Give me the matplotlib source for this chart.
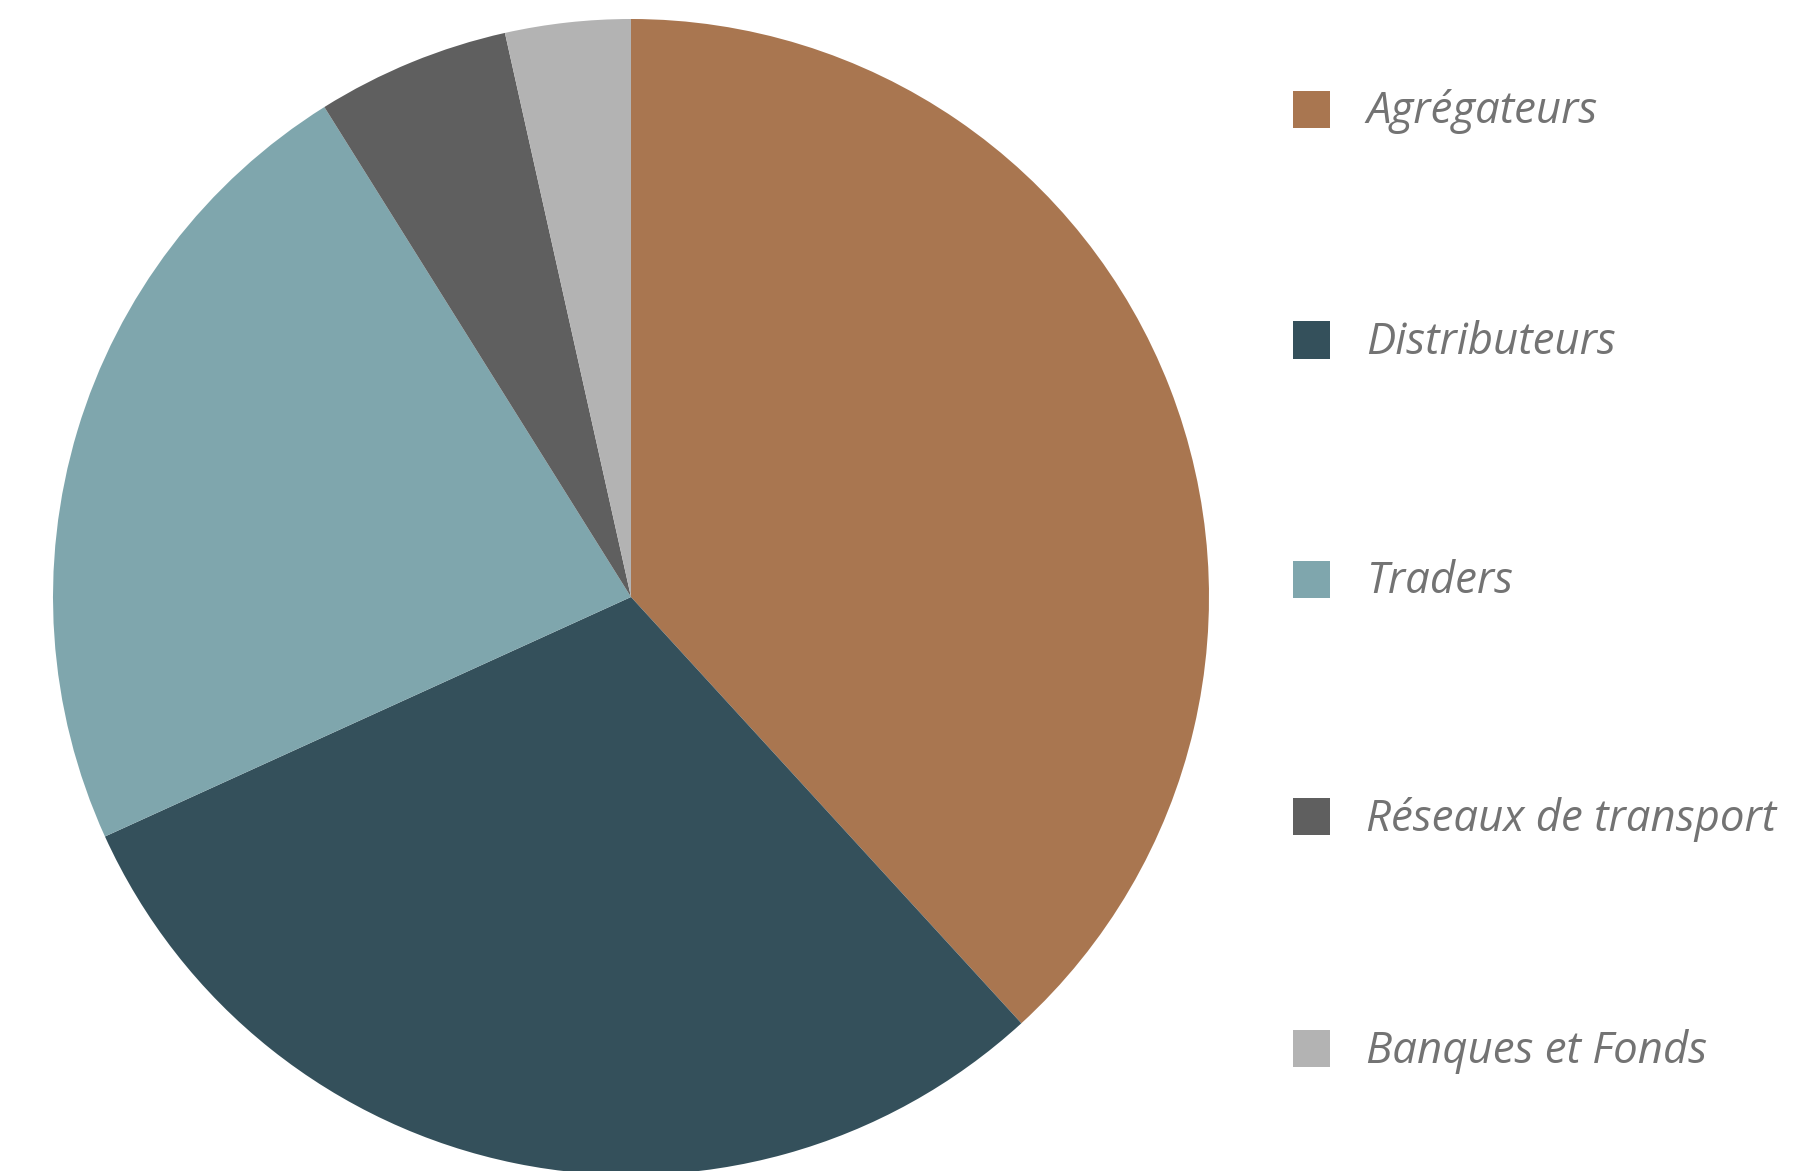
import matplotlib
matplotlib.use("Agg")
import matplotlib.pyplot as plt
from matplotlib.patches import Rectangle

labels = ["Agrégateurs", "Distributeurs", "Traders", "Réseaux de transport", "Banques et Fonds"]
values = [38.2, 30.0, 22.9, 5.4, 3.5]
colors = ["#A97650", "#34505B", "#7FA6AD", "#5F5F5F", "#B3B3B3"]

W, H = 1808, 1171
fig = plt.figure(figsize=(W / 100, H / 100), dpi=100)

cx, cy, r = 631, 597, 578
ax = fig.add_axes([(cx - r) / W, (H - cy - r) / H, 2 * r / W, 2 * r / H])
ax.pie(values, colors=colors, startangle=90, counterclock=False, radius=1,
       wedgeprops=dict(linewidth=0))
ax.set_xlim(-1, 1)
ax.set_ylim(-1, 1)
ax.set_aspect("equal")
ax.axis("off")

rows_y = [109, 340, 579, 816, 1048]
sq = 37
for lab, col, yy in zip(labels, colors, rows_y):
    fig.patches.append(Rectangle(((1293) / W, (H - yy - sq / 2) / H), sq / W, sq / H,
                                 transform=fig.transFigure, facecolor=col,
                                 edgecolor="none"))
    fig.text(1366 / W, (H - yy - 3) / H, lab, fontsize=31.5, style="italic",
             family="Open Sans", color="#737373", va="center", ha="left")

fig.savefig("out.png", dpi=100, facecolor="white")
